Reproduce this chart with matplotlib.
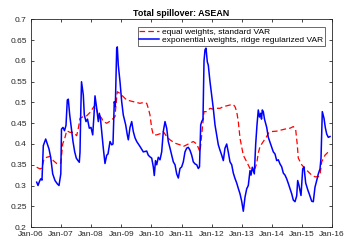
import matplotlib
matplotlib.use("Agg")
import matplotlib.pyplot as plt

plt.rcParams['font.family'] = ['Liberation Sans', 'DejaVu Sans']

title = "Total spillover: ASEAN"
series_names = ["equal weights, standard VAR",
                "exponential weights, ridge regularized VAR"]
xtick_years = list(range(2006, 2017))
xtick_labels = ["Jan-06", "Jan-07", "Jan-08", "Jan-09", "Jan-10", "Jan-11",
                "Jan-12", "Jan-13", "Jan-14", "Jan-15", "Jan-16"]
ytick_values = [0.2, 0.25, 0.3, 0.35, 0.4, 0.45, 0.5, 0.55, 0.6, 0.65, 0.7]

# exponential weights, ridge regularized VAR (blue)
blue_t = [2006.189, 2006.233, 2006.282, 2006.322, 2006.365, 2006.409, 2006.488, 2006.542,
          2006.598, 2006.654, 2006.721, 2006.797, 2006.874, 2006.930, 2006.963, 2006.990,
          2007.013, 2007.063, 2007.113, 2007.163, 2007.206, 2007.239, 2007.286, 2007.339,
          2007.395, 2007.452, 2007.505, 2007.561, 2007.605, 2007.628, 2007.651, 2007.678,
          2007.738, 2007.771, 2007.827, 2007.877, 2007.937, 2007.993, 2008.050, 2008.093,
          2008.126, 2008.183, 2008.236, 2008.269, 2008.309, 2008.359, 2008.402, 2008.458,
          2008.515, 2008.558, 2008.625, 2008.681, 2008.724, 2008.767, 2008.801, 2008.847,
          2008.867, 2008.900, 2008.957, 2009.013, 2009.066, 2009.146, 2009.199, 2009.233,
          2009.289, 2009.346, 2009.399, 2009.455, 2009.512, 2009.621, 2009.731, 2009.844,
          2009.897, 2009.953, 2010.010, 2010.063, 2010.096, 2010.136, 2010.176, 2010.229,
          2010.286, 2010.342, 2010.395, 2010.452, 2010.508, 2010.561, 2010.618, 2010.674,
          2010.728, 2010.784, 2010.841, 2010.894, 2010.950, 2011.007, 2011.060, 2011.116,
          2011.173, 2011.226, 2011.282, 2011.339, 2011.392, 2011.449, 2011.505, 2011.558,
          2011.598, 2011.621, 2011.638, 2011.671, 2011.714, 2011.748, 2011.781, 2011.814,
          2011.857, 2011.890, 2011.947, 2012.003, 2012.056, 2012.113, 2012.169, 2012.223,
          2012.279, 2012.336, 2012.389, 2012.445, 2012.502, 2012.555, 2012.611, 2012.668,
          2012.721, 2012.777, 2012.834, 2012.887, 2012.944, 2013.000, 2013.053, 2013.110,
          2013.166, 2013.219, 2013.276, 2013.309, 2013.352, 2013.419, 2013.465, 2013.508,
          2013.551, 2013.591, 2013.631, 2013.658, 2013.684, 2013.718, 2013.757, 2013.831,
          2013.884, 2013.940, 2013.997, 2014.050, 2014.106, 2014.163, 2014.216, 2014.272,
          2014.329, 2014.382, 2014.439, 2014.495, 2014.548, 2014.605, 2014.661, 2014.714,
          2014.771, 2014.827, 2014.860, 2014.904, 2014.970, 2015.027, 2015.070, 2015.126,
          2015.193, 2015.252, 2015.326, 2015.379, 2015.435, 2015.492, 2015.545, 2015.601,
          2015.635, 2015.678, 2015.734, 2015.777, 2015.824, 2015.877, 2015.934]
blue_v = [0.308, 0.300, 0.310, 0.316, 0.313, 0.396, 0.412, 0.400,
          0.388, 0.368, 0.328, 0.312, 0.304, 0.300, 0.316, 0.328,
          0.436, 0.440, 0.432, 0.445, 0.506, 0.508, 0.470, 0.438,
          0.406, 0.381, 0.366, 0.360, 0.356, 0.380, 0.470, 0.550,
          0.518, 0.470, 0.454, 0.460, 0.438, 0.440, 0.422, 0.470,
          0.516, 0.486, 0.454, 0.474, 0.460, 0.422, 0.390, 0.353,
          0.373, 0.376, 0.406, 0.398, 0.400, 0.502, 0.490, 0.631,
          0.634, 0.590, 0.550, 0.502, 0.470, 0.446, 0.422, 0.410,
          0.440, 0.454, 0.430, 0.415, 0.406, 0.394, 0.381, 0.383,
          0.373, 0.369, 0.366, 0.345, 0.324, 0.360, 0.350, 0.368,
          0.362, 0.381, 0.430, 0.454, 0.438, 0.406, 0.390, 0.373,
          0.357, 0.350, 0.328, 0.318, 0.341, 0.345, 0.357, 0.381,
          0.390, 0.392, 0.385, 0.373, 0.357, 0.352, 0.350, 0.341,
          0.345, 0.400, 0.446, 0.454, 0.460, 0.600, 0.627, 0.631,
          0.598, 0.590, 0.550, 0.518, 0.486, 0.446, 0.422, 0.398,
          0.385, 0.373, 0.360, 0.390, 0.400, 0.380, 0.357, 0.350,
          0.330, 0.317, 0.306, 0.293, 0.280, 0.262, 0.238, 0.272,
          0.292, 0.300, 0.336, 0.325, 0.344, 0.328, 0.400, 0.446,
          0.482, 0.465, 0.474, 0.460, 0.482, 0.478, 0.460, 0.440,
          0.416, 0.404, 0.392, 0.381, 0.376, 0.360, 0.362, 0.352,
          0.345, 0.330, 0.325, 0.316, 0.305, 0.292, 0.280, 0.265,
          0.261, 0.275, 0.312, 0.300, 0.276, 0.340, 0.345, 0.306,
          0.290, 0.278, 0.262, 0.261, 0.296, 0.312, 0.328, 0.340,
          0.366, 0.478, 0.462, 0.440, 0.424, 0.416, 0.418]

# equal weights, standard VAR (red dashed)
red_t = [2006.189, 2006.299, 2006.365, 2006.432, 2006.522, 2006.631, 2006.741, 2006.854,
         2006.940, 2006.990, 2007.053, 2007.130, 2007.186, 2007.296, 2007.405, 2007.518,
         2007.578, 2007.628, 2007.738, 2007.850, 2007.960, 2008.070, 2008.136, 2008.216,
         2008.349, 2008.402, 2008.515, 2008.625, 2008.681, 2008.791, 2008.814, 2008.867,
         2008.957, 2009.066, 2009.179, 2009.289, 2009.399, 2009.512, 2009.621, 2009.731,
         2009.844, 2009.897, 2009.953, 2010.010, 2010.063, 2010.176, 2010.342, 2010.395,
         2010.508, 2010.618, 2010.784, 2010.950, 2011.060, 2011.173, 2011.282, 2011.392,
         2011.505, 2011.615, 2011.704, 2011.748, 2011.837, 2011.947, 2012.056, 2012.169,
         2012.279, 2012.389, 2012.502, 2012.611, 2012.721, 2012.777, 2012.834, 2012.887,
         2012.944, 2013.053, 2013.166, 2013.276, 2013.442, 2013.498, 2013.551, 2013.608,
         2013.718, 2013.831, 2013.884, 2013.997, 2014.163, 2014.329, 2014.439, 2014.605,
         2014.714, 2014.794, 2014.847, 2014.880, 2014.993, 2015.103, 2015.213, 2015.326,
         2015.435, 2015.545, 2015.601, 2015.658, 2015.767, 2015.877, 2015.934]
red_v = [0.344, 0.340, 0.342, 0.364, 0.368, 0.370, 0.360, 0.353,
         0.352, 0.354, 0.400, 0.416, 0.432, 0.428, 0.428, 0.420,
         0.440, 0.462, 0.466, 0.468, 0.476, 0.488, 0.494, 0.474,
         0.462, 0.454, 0.450, 0.455, 0.458, 0.466, 0.486, 0.526,
         0.522, 0.514, 0.506, 0.504, 0.502, 0.500, 0.498, 0.500,
         0.498, 0.486, 0.470, 0.438, 0.422, 0.422, 0.426, 0.430,
         0.418, 0.410, 0.402, 0.398, 0.394, 0.398, 0.402, 0.406,
         0.400, 0.381, 0.446, 0.478, 0.478, 0.486, 0.484, 0.486,
         0.486, 0.490, 0.492, 0.494, 0.495, 0.490, 0.478, 0.454,
         0.414, 0.373, 0.357, 0.341, 0.341, 0.353, 0.378, 0.394,
         0.406, 0.418, 0.426, 0.430, 0.431, 0.434, 0.436, 0.438,
         0.442, 0.434, 0.398, 0.366, 0.350, 0.341, 0.333, 0.325,
         0.321, 0.321, 0.325, 0.357, 0.373, 0.381, 0.385]

fig = plt.figure(figsize=(3.5, 2.47), dpi=100)
ax = fig.add_axes([31/350, 1-227/247, (332-31)/350, (227-19.5)/247])

ax.plot(red_t, red_v, color=(1.0, 0.0, 0.0), lw=0.9, dashes=(4.5, 2.5),
        label=series_names[0])
ax.plot(blue_t, blue_v, color=(0.0, 0.0, 1.0), lw=1.1, label=series_names[1])

ax.set_xlim(2006, 2016)
ax.set_ylim(0.2, 0.7)
ax.set_xticks(xtick_years)
ax.set_xticklabels(xtick_labels)
ax.set_yticks(ytick_values)
ax.set_yticklabels([f"{v:g}" for v in ytick_values])
ax.tick_params(direction='in', length=2.5, width=0.6, labelsize=6,
               top=True, right=True, colors='#262626')
ax.tick_params(axis='x', pad=3.2)
ax.tick_params(axis='y', pad=3.0)
for s in ax.spines.values():
    s.set_linewidth(0.6)
    s.set_color('#262626')

ax.set_title(title, fontsize=6.4, fontweight='bold', pad=2.8)

leg = ax.legend(loc='upper right', bbox_to_anchor=(0.977, 0.965), fontsize=6,
                frameon=True, fancybox=False, borderpad=0.2, labelspacing=0.0,
                handlelength=2.4, handletextpad=0.35, borderaxespad=0.0)
leg.get_frame().set_edgecolor('#262626')
leg.get_frame().set_linewidth(0.6)

fig.savefig("out.png", dpi=100)
